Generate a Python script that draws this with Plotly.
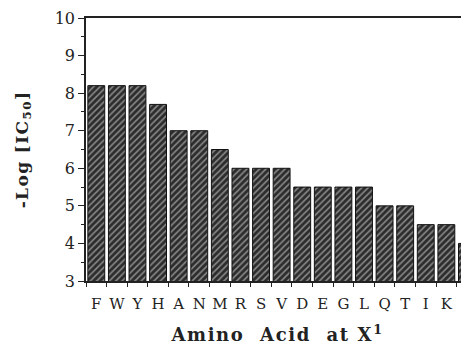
import plotly.graph_objects as go

amino_acids = ["F", "W", "Y", "H", "A", "N", "M", "R", "S", "V",
               "D", "E", "G", "L", "Q", "T", "I", "K", "P"]
neg_log_ic50 = [8.2, 8.2, 8.2, 7.7, 7.0, 7.0, 6.5, 6.0, 6.0, 6.0,
                5.5, 5.5, 5.5, 5.5, 5.0, 5.0, 4.5, 4.5, 4.0]
y_ticks = [3, 4, 5, 6, 7, 8, 9, 10]

FONT = "DejaVu Serif"

fig = go.Figure(go.Bar(
    x=amino_acids,
    y=neg_log_ic50,
    base=0,
    width=0.82,
    marker=dict(
        color="#333333",
        line=dict(color="#111111", width=1),
        pattern=dict(shape="/", fgcolor="#8a8a8a", bgcolor="#2c2c2c",
                     size=4.5, solidity=0.35, fillmode="replace"),
    ),
    showlegend=False,
))

fig.update_layout(
    width=461, height=351,
    margin=dict(l=78, r=0, t=10, b=78),
    paper_bgcolor="white", plot_bgcolor="white",
    font=dict(family=FONT, color="#222222", size=15),
    bargap=0.18,
)

fig.update_xaxes(
    type="category",
    range=[-0.5, 18.1],
    automargin=False,
    showline=True, linecolor="#222222", linewidth=1.5,
    mirror=True,
    ticks="outside", tickson="boundaries", ticklen=4, tickcolor="#222222",
    tickangle=0, ticklabelstandoff=8, ticklabeloverflow="allow",
    tickfont=dict(family=FONT, size=15, color="#222222"),
    showgrid=False,
    title=dict(text="<b><span style='letter-spacing:1.6px'>Amino\u00a0 Acid\u00a0 at X<sup>1</sup></span></b>",
               font=dict(family=FONT, size=18, color="#222222"),
               standoff=17),
)

fig.update_yaxes(
    range=[3, 10],
    automargin=False,
    tickvals=y_ticks,
    showline=True, linecolor="#222222", linewidth=1.5,
    mirror=False,
    ticks="outside", ticklen=6, tickcolor="#222222",
    minor=dict(dtick=0.5, ticks="outside", ticklen=3, tickcolor="#222222"),
    ticklabeloverflow="allow",
    tickfont=dict(family=FONT, size=16, color="#222222"),
    showgrid=False, zeroline=False,
    title=dict(text="<b><span style='letter-spacing:1.4px'>-Log [IC<sub>50</sub>]</span></b>",
               font=dict(family=FONT, size=17, color="#222222"),
               standoff=22),
)

fig.write_html("out.html")
